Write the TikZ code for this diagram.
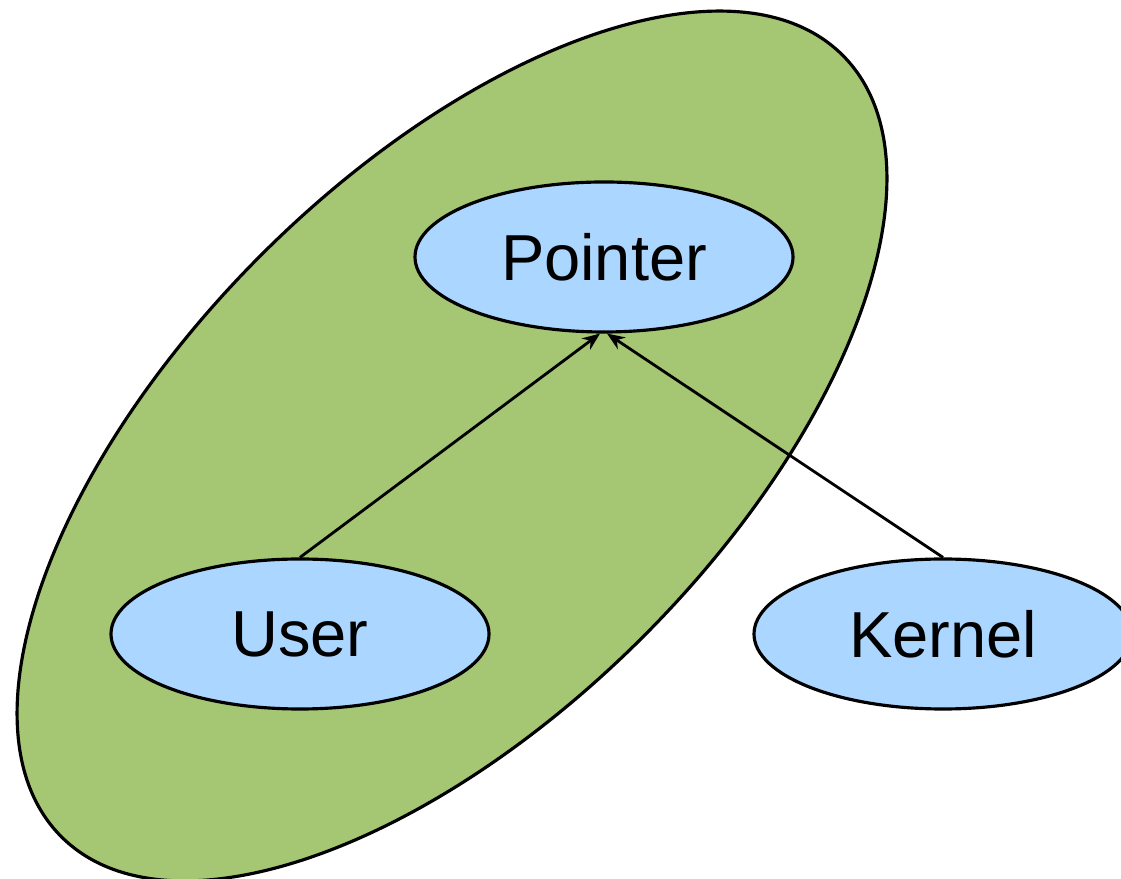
\documentclass[tikz,border=0pt]{standalone}
\usepackage{fontspec}
\setmainfont{Liberation Sans}
\usetikzlibrary{arrows.meta, positioning, shapes.geometric}
\definecolor{spacegreen}{RGB}{165,198,115}
\definecolor{objblue}{RGB}{170,214,255}

\begin{document}
\begin{tikzpicture}[
      region/.style={draw, ellipse, fill=spacegreen, line width=0.9pt,
                     minimum width=11.05cm, minimum height=5.4cm, rotate=45},
      obj/.style={draw, ellipse, fill=objblue, line width=0.9pt, inner sep=0pt,
                  minimum width=3.78cm, minimum height=1.5cm, font=\fontsize{18.5}{22}\selectfont},
      arrow/.style={-{Stealth[length=5pt, width=4pt]}, line width=0.8pt}
    ]
    \useasboundingbox (0,0) rectangle (11.21,8.78);

    % user space region
    \node[region] (space) at (4.52,4.32) {};

    \node[obj] (ptr) at (6.04,6.21) {Pointer};
    \node[obj] (user) at (3.00,2.44) {User};
    \node[obj] (kern) at (9.43,2.44) {Kernel};

    \draw[arrow] (user.north) -- ([xshift=-0.04cm]ptr.south);
    \draw[arrow] (kern.north) -- ([xshift=0.03cm]ptr.south);
  \end{tikzpicture}
\end{document}
